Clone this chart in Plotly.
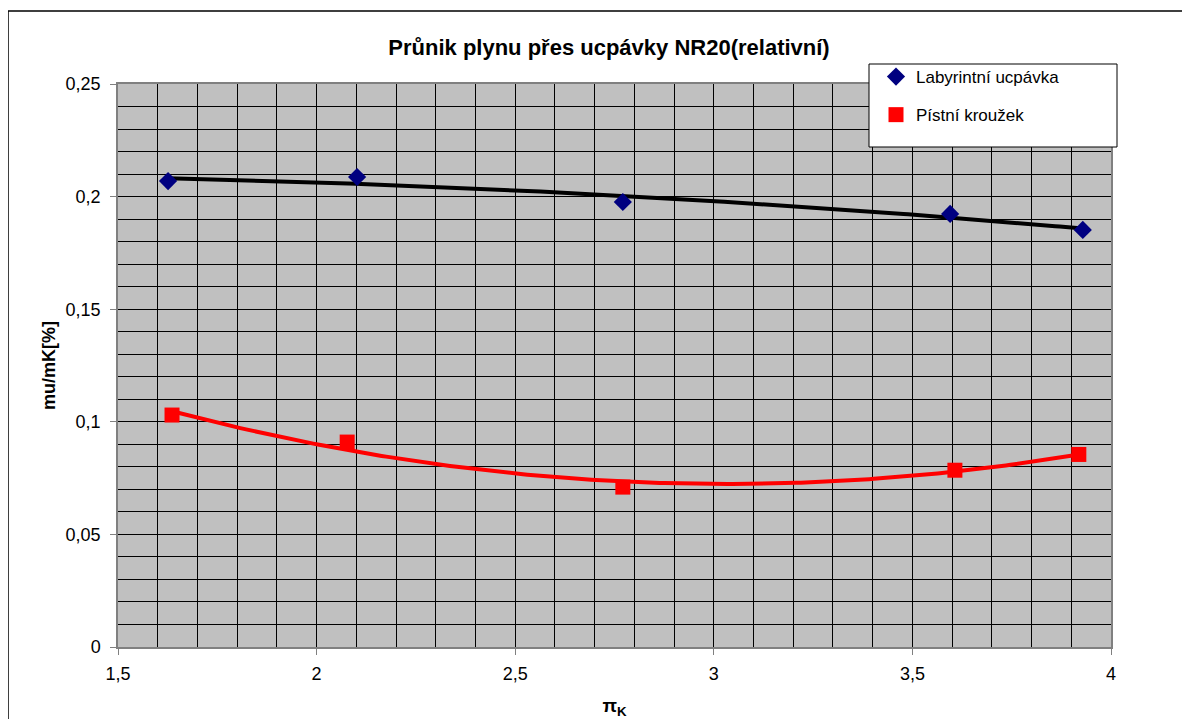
import numpy as np
import plotly.graph_objects as go

# Data
lab_x = [1.626, 2.102, 2.771, 3.595, 3.929]
lab_y = [0.2069, 0.2087, 0.1976, 0.1923, 0.1852]
pist_x = [1.636, 2.077, 2.771, 3.607, 3.919]
pist_y = [0.1030, 0.0910, 0.0710, 0.0785, 0.0855]

lab_name = "Labyrintní ucpávka"
pist_name = "Pístní kroužek"
title_text = "<b>Průnik plynu přes ucpávky NR20(relativní)</b>"
x_title = "<b>π<sub>K</sub></b>"
y_title = "<b>mu/mK[%]</b>"

# page body has an 8px margin; reference pixel coords are shifted by OFF
OFF = 8
W, H = 1190 - 2 * OFF, 727 - 2 * OFF
L = 118 - OFF
T = 84 - OFF
R = W - (1111 - OFF)
B = H - (647 - OFF)
pw, ph = W - L - R, H - T - B

def px_x(p):
    return (p - OFF - L) / pw

def px_y(p):
    return (H - B - (p - OFF)) / ph

# Polynomial trendlines (as in Excel)
def trend(xs, ys, deg=2):
    c = np.polyfit(xs, ys, deg)
    xx = np.linspace(min(xs), max(xs), 200)
    return xx, np.polyval(c, xx)

lx, ly = trend(lab_x, lab_y)
px_, py_ = trend(pist_x, pist_y)

fig = go.Figure()
fig.add_trace(go.Scatter(x=lx, y=ly, mode="lines", line=dict(color="black", width=4),
                         showlegend=False, hoverinfo="skip"))
fig.add_trace(go.Scatter(x=px_, y=py_, mode="lines", line=dict(color="#FF0000", width=4),
                         showlegend=False, hoverinfo="skip"))
fig.add_trace(go.Scatter(x=lab_x, y=lab_y, mode="markers", name=lab_name, legendgroup="a",
                         marker=dict(symbol="diamond", size=14, color="#000080")))
fig.add_trace(go.Scatter(x=pist_x, y=pist_y, mode="markers", name=pist_name, legendgroup="b",
                         marker=dict(symbol="square", size=15, color="#FF0000")))

font = "Arial, Liberation Sans, sans-serif"
fig.update_layout(
    width=W, height=H,
    margin=dict(l=L, r=R, t=T, b=B, pad=0, autoexpand=False),
    paper_bgcolor="white",
    plot_bgcolor="#C0C0C0",
    separators=", ",
    font=dict(family=font, size=17, color="black"),
    title=dict(text=title_text, x=(609 - OFF) / W, xref="container", xanchor="center",
               y=1 - (47 - OFF) / H, yref="container", yanchor="middle",
               font=dict(size=22, family=font, color="black")),
    showlegend=True,
    legend=dict(x=px_x(876), y=px_y(59), xanchor="left", yanchor="top",
                bgcolor="rgba(0,0,0,0)", borderwidth=0,
                font=dict(size=17, family=font), tracegroupgap=13),
    shapes=[
        dict(type="rect", xref="paper", yref="paper",
             x0=px_x(869), x1=px_x(1117), y0=px_y(147), y1=px_y(64),
             fillcolor="white", line=dict(color="black", width=1), layer="above"),
        dict(type="rect", xref="paper", yref="paper",
             x0=px_x(8), x1=px_x(1210), y0=px_y(760), y1=px_y(11),
             fillcolor="rgba(0,0,0,0)", line=dict(color="black", width=1.5), layer="below"),
    ],
)
fig.update_xaxes(range=[1.5, 4], dtick=0.5, tick0=1.5, automargin=False,
                 showgrid=True, gridcolor="black", gridwidth=1,
                 minor=dict(dtick=0.1, showgrid=True, gridcolor="black", gridwidth=1),
                 ticks="outside", ticklen=6, tickcolor="#808080", ticklabelstandoff=4,
                 showline=True, linecolor="#808080", linewidth=1.5, mirror=True,
                 zeroline=False,
                 title=dict(text=x_title, font=dict(size=19, family=font), standoff=15),
                 tickfont=dict(size=18, family=font))
fig.update_yaxes(range=[0, 0.25], dtick=0.05, automargin=False,
                 showgrid=True, gridcolor="black", gridwidth=1,
                 minor=dict(dtick=0.01, showgrid=True, gridcolor="black", gridwidth=1),
                 ticks="outside", ticklen=6, tickcolor="#808080", ticklabelstandoff=6,
                 showline=True, linecolor="#808080", linewidth=1.5, mirror=True,
                 zeroline=False,
                 title=dict(text=y_title, font=dict(size=18, family=font), standoff=5),
                 tickfont=dict(size=18, family=font))

fig.write_html("out.html")
